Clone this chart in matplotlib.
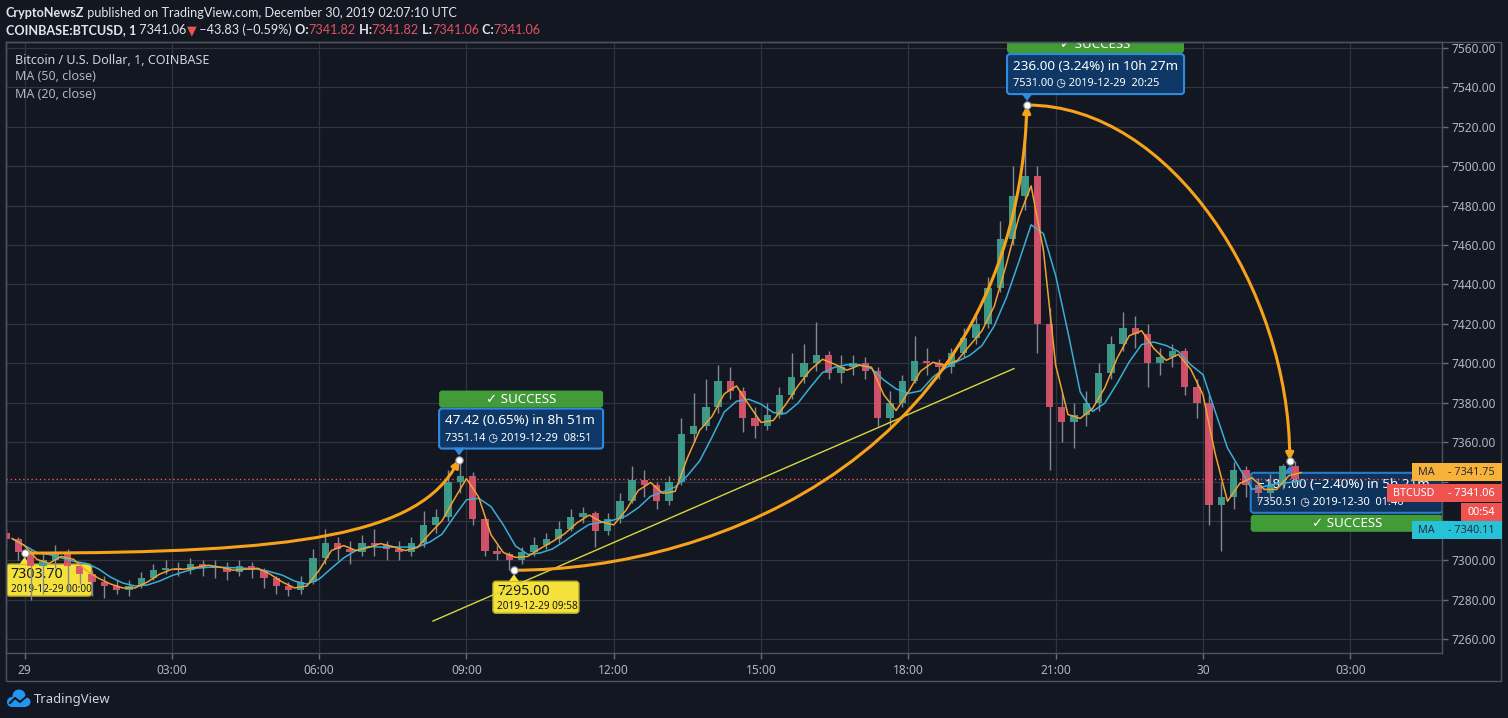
import numpy as np
import pandas as pd
import matplotlib
matplotlib.use('Agg')
import matplotlib.pyplot as plt
import matplotlib.dates as mdates
import matplotlib.transforms as mtransforms
from matplotlib.patches import Rectangle, FancyBboxPatch, Polygon, FancyArrowPatch, Circle
from matplotlib.path import Path

plt.rcParams['font.family'] = ['Noto Sans', 'DejaVu Sans']

BG = '#131722'
GRID = '#30343f'
FRAME = '#50535e'
TXT = '#b2b5be'
UP = '#3f9f8a'
DOWN = '#d9546c'
WICK = '#858892'
ORANGE = '#f7a21b'
MA50_C = '#3aaed3'
MA20_C = '#eea232'
BLUE_FC = '#0f3866'
BLUE_EC = '#2e8be0'
GREEN = '#419b36'
YELLOW = '#f4e23b'

# 15 minute bars, stamped at bar close (BTCUSD, Coinbase)
bar_close_times = pd.date_range('2019-12-28 23:45', '2019-12-30 02:00', freq='15min')
first_open = 7314
closes = [7311, 7304, 7297, 7300, 7304, 7297, 7293, 7289, 7287, 7285,
          7287, 7291, 7295, 7296, 7295, 7298, 7297, 7296, 7294, 7297,
          7295, 7291, 7287, 7285, 7289, 7301, 7309, 7306, 7304, 7309,
          7308, 7306, 7304, 7309, 7318, 7322, 7340, 7343, 7321, 7305,
          7303, 7300, 7304, 7308, 7311, 7316, 7322, 7324, 7315, 7321,
          7330, 7341, 7338, 7330, 7340, 7364, 7368, 7378, 7391, 7386,
          7372, 7368, 7374, 7384, 7393, 7400, 7404, 7395, 7398, 7400,
          7396, 7372, 7380, 7391, 7401, 7400, 7398, 7405, 7413, 7420,
          7438, 7463, 7485, 7495, 7420, 7378, 7370, 7374, 7380, 7395,
          7410, 7418, 7415, 7400, 7403, 7406, 7388, 7380, 7328, 7332,
          7346, 7338, 7334, 7338, 7348, 7341.06]
highs = [7316, 7312, 7306, 7303, 7308, 7306, 7299, 7295, 7292, 7290,
         7290, 7294, 7298, 7300, 7299, 7301, 7300, 7300, 7299, 7300,
         7299, 7296, 7292, 7289, 7292, 7306, 7316, 7312, 7310, 7313,
         7316, 7310, 7310, 7312, 7325, 7326, 7346, 7351.14, 7345, 7322,
         7308, 7304, 7307, 7312, 7314, 7320, 7326, 7327, 7325, 7324,
         7334, 7348, 7346, 7340, 7343, 7372, 7385, 7392, 7399, 7398,
         7388, 7378, 7380, 7388, 7405, 7410, 7421, 7406, 7404, 7404,
         7403, 7398, 7386, 7394, 7414, 7408, 7402, 7408, 7418, 7424,
         7444, 7472, 7500, 7531, 7500, 7428, 7385, 7380, 7386, 7400,
         7414, 7426, 7424, 7420, 7408, 7410, 7408, 7392, 7384, 7340,
         7350, 7348, 7342, 7344, 7349, 7350.51]
lows = [7306, 7300, 7280, 7283, 7296, 7284, 7288, 7282, 7281, 7283,
        7282, 7286, 7290, 7293, 7292, 7293, 7292, 7291, 7290, 7292,
        7291, 7286, 7283, 7282, 7283, 7288, 7298, 7300, 7298, 7302,
        7302, 7300, 7300, 7302, 7307, 7314, 7320, 7334, 7318, 7302,
        7300, 7295, 7298, 7302, 7306, 7309, 7315, 7319, 7307, 7313,
        7319, 7329, 7332, 7326, 7328, 7338, 7360, 7366, 7375, 7382,
        7365, 7362, 7366, 7372, 7382, 7390, 7396, 7392, 7390, 7394,
        7392, 7368, 7368, 7378, 7390, 7394, 7392, 7395, 7403, 7410,
        7418, 7436, 7460, 7478, 7405, 7346, 7360, 7357, 7368, 7376,
        7392, 7406, 7408, 7388, 7394, 7398, 7384, 7372, 7318, 7305,
        7326, 7332, 7330, 7331, 7336, 7338]

# swing points picked on the chart
point_times = ['2019-12-29 00:00', '2019-12-29 08:51', '2019-12-29 09:58',
               '2019-12-29 20:25', '2019-12-30 01:46']
point_prices = [7303.70, 7351.14, 7295.00, 7531.00, 7350.51]

trend_times = ['2019-12-29 08:19', '2019-12-29 20:09']
trend_prices = [7269.2, 7397.3]

last_price = 7341.06
ma20_last = 7341.75
ma50_last = 7340.11
countdown = '00:54'

price_ticks = list(range(7260, 7561, 20))
hidden_ticks = [7320, 7340]   # covered by the price tags
time_ticks = ['2019-12-29 00:00', '2019-12-29 03:00', '2019-12-29 06:00', '2019-12-29 09:00',
              '2019-12-29 12:00', '2019-12-29 15:00', '2019-12-29 18:00', '2019-12-29 21:00',
              '2019-12-30 00:00', '2019-12-30 03:00']
time_labels = ['29', '03:00', '06:00', '09:00', '12:00', '15:00', '18:00', '21:00', '30', '03:00']

W, H = 1508, 718
IDT = mtransforms.IdentityTransform()

fig = plt.figure(figsize=(W / 100, H / 100), dpi=100, facecolor=BG)
ax = fig.add_axes([6 / W, 65 / H, 1435.5 / W, 611 / H], facecolor=BG)

t_close = mdates.date2num(bar_close_times)
centers = t_close - 7.5 / 1440
opens = np.array([first_open] + closes[:-1], dtype=float)
closes_a = np.array(closes, dtype=float)
colors = np.where(closes_a >= opens, UP, DOWN)

ax.vlines(centers, lows, highs, color=WICK, lw=1, zorder=3)
ax.bar(centers, closes_a - opens, bottom=opens, width=9 / 1440, color=colors,
       linewidth=0, zorder=3.5, alpha=0.95)

s = pd.Series(closes_a, index=bar_close_times)
ax.plot(t_close, s.rolling('50min').mean(), color=MA50_C, lw=1.1, zorder=4)
ax.plot(t_close, s.rolling('20min').mean(), color=MA20_C, lw=1.1, zorder=4)

ax.axhline(last_price, color='#ef5350', lw=1, ls=(0, (1, 2)), zorder=2.5)

ax.plot(mdates.date2num(pd.to_datetime(trend_times)), trend_prices, color='#d8d83c', lw=1, zorder=4.5)

pt = mdates.date2num(pd.to_datetime(point_times))


def bezier_arrow(i, j, c1, c2):
    x0, y0 = pt[i], point_prices[i]
    x3, y3 = pt[j], point_prices[j]
    dx, dy = x3 - x0, y3 - y0
    verts = [(x0, y0), (x0 + c1[0] * dx, y0 + c1[1] * dy),
             (x0 + c2[0] * dx, y0 + c2[1] * dy), (x3, y3)]
    path = Path(verts, [Path.MOVETO, Path.CURVE4, Path.CURVE4, Path.CURVE4])
    ax.add_patch(FancyArrowPatch(path=path, arrowstyle='-|>', mutation_scale=11,
                                 color=ORANGE, lw=2.2, zorder=5))


bezier_arrow(0, 1, (0.63, 0.0), (0.91, 0.19))
bezier_arrow(2, 3, (0.40, 0.0), (0.977, 0.257))
bezier_arrow(3, 4, (0.55, 0.0), (1.0, 0.52))

ax.scatter(pt, point_prices, s=28, c='white', edgecolors='#8f929b', linewidths=0.8, zorder=7)


def anchor(x, y, base):
    return mtransforms.Affine2D() + mtransforms.ScaledTranslation(x, y, base)


def rbox(tr, x0, y0, w, h, fc, ec=None, lw=0, z=2, alpha=1.0):
    ax.add_patch(FancyBboxPatch((x0, y0), w, h, boxstyle='round,pad=0,rounding_size=3',
                                fc=fc, ec=ec or fc, lw=lw, transform=tr, zorder=z, alpha=alpha))


def txt(tr, x, y, s, size, color='white', weight='normal', ha='left', z=2.2):
    ax.text(x, y, s, transform=tr, fontsize=size, color=color, fontweight=weight,
            ha=ha, va='center', clip_on=True, zorder=z)


def result_box(i, x0, w, up_side, line1, line2, alpha=1.0):
    tr = anchor(pt[i], point_prices[i], ax.transData)
    if up_side:
        yb, yg = 11, 52
        ax.add_patch(Polygon([(-6, 12), (6, 12), (0, 4)], closed=True, fc=BLUE_EC,
                             transform=tr, zorder=2.1))
    else:
        yb, yg = -52, -71
        ax.add_patch(Polygon([(-6, -13), (6, -13), (0, -5)], closed=True, fc=BLUE_EC,
                             transform=tr, zorder=2.1))
    rbox(tr, x0, yb, w, 40, BLUE_FC, BLUE_EC, lw=1.5, alpha=alpha)
    rbox(tr, x0, yg, w, 17, GREEN)
    txt(tr, x0 + 6, yb + 28, line1, 9.7)
    txt(tr, x0 + 6, yb + 11, line2, 7.9, weight='bold')
    txt(tr, x0 + w / 2, yg + 8.5, '\u2713 SUCCESS', 9.6, weight='bold', ha='center')


result_box(1, -20, 164, True, '47.42 (0.65%) in 8h 51m', '7351.14 \u25f7 2019-12-29  08:51')
result_box(3, -20, 177, True, '236.00 (3.24%) in 10h 27m', '7531.00 \u25f7 2019-12-29  20:25')
result_box(4, -39, 192, False, '\u2212181.00 (\u22122.40%) in 5h 21m', '7350.51 \u25f7 2019-12-30  01:46',
           alpha=0.85)


def point_label(i, x0, w, line1, line2):
    tr = anchor(pt[i], point_prices[i], ax.transData)
    ax.add_patch(Polygon([(-5, -11), (5, -11), (0, -4)], closed=True, fc=YELLOW,
                         transform=tr, zorder=2.1))
    rbox(tr, x0, -43, w, 32, YELLOW, '#b9a92a', lw=1)
    txt(tr, x0 + 4, -21, line1, 10.2, color='#131722')
    txt(tr, x0 + 4, -36, line2, 7.2, color='#131722')


point_label(0, -18, 85, '7303.70', '2019-12-29 00:00')
point_label(2, -21, 86, '7295.00', '2019-12-29 09:58')

# axes, grid, ticks
ax.set_xlim(mdates.date2num(pd.Timestamp('2019-12-29 00:00')) - 22.7 / 1440,
            mdates.date2num(pd.Timestamp('2019-12-29 00:00')) + 1731.5 / 1440)
ax.set_ylim(7253.0, 7563.0)
ax.set_xticks(mdates.date2num(pd.to_datetime(time_ticks)))
ax.set_xticklabels(time_labels)
ax.set_yticks(price_ticks)
ax.set_yticklabels(['' if v in hidden_ticks else f'{v:.2f}' for v in price_ticks])
ax.yaxis.tick_right()
ax.tick_params(axis='both', colors='#6a6d78', labelcolor=TXT, labelsize=8.6, length=4, width=1)
ax.tick_params(axis='x', pad=4)
ax.tick_params(axis='y', pad=3)
ax.grid(True, color=GRID, lw=0.9)
ax.set_axisbelow(True)
for sp in ax.spines.values():
    sp.set_color(FRAME)
    sp.set_linewidth(1)

fig.add_artist(Rectangle((6, H - 681), 1495, 639, transform=IDT, fill=False, ec=FRAME, lw=1))

# price tags on the right axis
ytr = ax.get_yaxis_transform()


def tag(price, dy, parts):
    tr = anchor(1.0, price, ytr)
    for x0, w, fc, label, tc in parts:
        fig.add_artist(Rectangle((x0, dy - 9), w, 18, transform=tr, fc=fc, ec='none', zorder=5))
        fig.text(x0 + w / 2, dy, label, transform=tr, fontsize=7.8, color=tc,
                 ha='center', va='center', zorder=6)


tag(ma20_last, 6, [(-30, 30, '#f8b23a', 'MA', '#2a2e39'),
                   (0, 60, '#f8b23a', f'- {ma20_last:.2f}', '#2a2e39')])
tag(last_price, -14, [(-55, 55, '#ef5350', 'BTCUSD', 'white'),
                      (0, 60, '#ef5350', f'- {last_price:.2f}', 'white')])
tag(last_price, -33, [(19, 41, '#ef5350', countdown, 'white')])
tag(ma50_last, -49, [(-30, 30, '#26c3d8', 'MA', '#2a2e39'),
                     (0, 60, '#26c3d8', f'- {ma50_last:.2f}', '#2a2e39')])

# header and legend
renderer = fig.canvas.get_renderer()


def text_run(x, y_img, parts, size, family):
    for s_, color, weight in parts:
        t = fig.text(x, H - y_img, s_, transform=IDT, color=color, fontsize=size,
                     fontweight=weight, va='center', ha='left', family=family)
        x += t.get_window_extent(renderer).width


HEAD = '#e3e5ea'
RED = '#e0525e'
HFONT = ['Lato', 'DejaVu Sans']
text_run(6, 13, [('CryptoNewsZ', HEAD, 'bold'),
                 (' published on TradingView.com, December 30, 2019 02:07:10 UTC', HEAD, 'normal')],
         9.1, HFONT)
text_run(6, 30, [('COINBASE:BTCUSD, 1', HEAD, 'bold'), (' 7341.06', HEAD, 'normal'),
                 ('\u25bc', '#ef5350', 'normal'), (' \u221243.83 (\u22120.59%)', HEAD, 'normal'),
                 (' O:', HEAD, 'bold'), ('7341.82', RED, 'normal'),
                 (' H:', HEAD, 'bold'), ('7341.82', RED, 'normal'),
                 (' L:', HEAD, 'bold'), ('7341.06', RED, 'normal'),
                 (' C:', HEAD, 'bold'), ('7341.06', RED, 'normal')], 9.1, HFONT)

fig.text(15, H - 60, 'Bitcoin / U.S. Dollar, 1, COINBASE', transform=IDT, fontsize=9,
         color='#d1d4dc', va='center')
fig.text(15, H - 77, 'MA (50, close)', transform=IDT, fontsize=9, color=TXT, va='center')
fig.text(15, H - 94, 'MA (20, close)', transform=IDT, fontsize=9, color=TXT, va='center')

# TradingView logo
for cx, cy, r in [(12, H - 702, 5), (19, H - 696, 6.5), (26, H - 702, 4.5)]:
    fig.add_artist(Circle((cx, cy), r, transform=IDT, fc='#2196f3', ec='none'))
fig.add_artist(Rectangle((12, H - 707), 14, 6, transform=IDT, fc='#2196f3', ec='none'))
fig.add_artist(plt.Line2D([10, 15, 20, 27], [H - 703, H - 698, H - 702, H - 696], transform=IDT,
                          color='#131722', lw=1.5))
fig.text(34, H - 699, 'TradingView', transform=IDT, fontsize=9.4, color='#d1d4dc', va='center')

fig.savefig('out.png', dpi=100, facecolor=BG)
